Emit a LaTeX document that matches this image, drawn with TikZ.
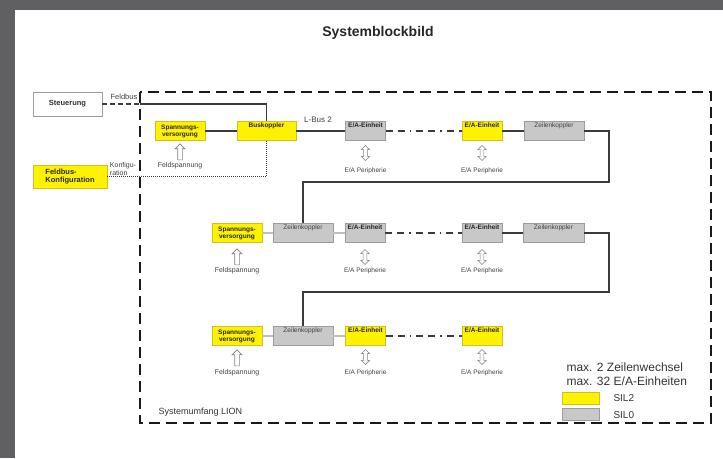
\documentclass[tikz,border=0pt]{standalone}
\usepackage{fontspec}
\setmainfont{Liberation Sans}
\usepackage{xcolor}
\usepackage{tikz}
\usetikzlibrary{shapes.arrows}

\definecolor{SILgelb}{HTML}{FFF200}
\definecolor{SILgelbRand}{HTML}{D0C020}
\definecolor{SILgrau}{HTML}{C8C8C8}
\definecolor{SILgrauRand}{HTML}{9C9C9C}
\definecolor{Leitung}{HTML}{3A3A3A}
\definecolor{Hellleitung}{HTML}{BEBEBE}
\definecolor{Rahmen}{HTML}{606062}

\begin{document}
\begin{tikzpicture}[x=1pt,y=-1pt]
% Styles (aenderbar)
\tikzstyle{kasten}=[draw,inner sep=0pt,minimum height=19pt,line width=0.6pt]
\tikzstyle{gelb}=[kasten,fill=SILgelb,draw=SILgelbRand]
\tikzstyle{grau}=[kasten,fill=SILgrau,draw=SILgrauRand]
\tikzstyle{oben}=[text height=5pt,text depth=12pt]
\tikzstyle{fett}=[font=\fontsize{6.5}{7}\selectfont\bfseries,text=black!85]
\tikzstyle{duenn}=[font=\fontsize{6.5}{7}\selectfont,text=black!75]
\tikzstyle{klein}=[font=\fontsize{6.5}{7}\selectfont,text=black!75]
\tikzstyle{bus}=[draw=Leitung,line width=1.4pt]
\tikzstyle{hellbus}=[draw=Hellleitung,line width=1.2pt]
\tikzstyle{strichpunkt}=[bus,dash pattern=on 7pt off 5pt on 7pt off 5pt on 1.5pt off 5pt]
\tikzstyle{punkte}=[draw=Leitung,line width=1pt,dash pattern=on 1pt off 1pt]
\tikzstyle{grenze}=[draw=black!90,line width=1.6pt,dash pattern=on 11pt off 6pt]
\tikzstyle{pfeilauf}=[single arrow,shape border rotate=90,draw=gray,fill=white,line width=0.6pt,inner sep=2pt,single arrow head extend=2.6pt,minimum height=16pt]
\tikzstyle{doppelpfeil}=[double arrow,shape border rotate=90,draw=gray,fill=white,line width=0.6pt,inner sep=1.6pt,double arrow head extend=2.2pt,minimum height=15pt]
% Abmessungen (aenderbar)
\def\ZeileA{131}
\def\ZeileB{233}
\def\ZeileC{336}
\def\Rechts{609}
% Rahmen und Titel
\useasboundingbox (0,0) rectangle (723,458);
\fill[Rahmen] (0,0) rectangle (723,10);
\fill[Rahmen] (0,0) rectangle (15,458);
\node[font=\fontsize{14}{16}\selectfont\bfseries,text=black!85] (Titel) at (378,33) {Systemblockbild};
\draw[grenze] (140,92) rectangle (711,423);
\node[anchor=west,font=\fontsize{9}{10}\selectfont,text=black!80] (Umfang) at (155,412) {Systemumfang LION};
% Knoten ausserhalb
\node[kasten,draw=SILgrauRand,fill=white,minimum width=69pt,minimum height=24pt,font=\fontsize{7.5}{8.5}\selectfont\bfseries,text=black!80] (Steu) at (67.5,104) {Steuerung};
\node[gelb,minimum width=74pt,minimum height=23pt,align=left,font=\fontsize{7.5}{8.5}\selectfont\bfseries,text=black!85] (Kfg) at (70,176.5) {Feldbus-\\Konfiguration};
\node[font=\fontsize{7.5}{8}\selectfont,text=black!75] (FbT) at (124,97) {Feldbus};
\node[align=left,font=\fontsize{7}{7.5}\selectfont,text=black!75] (KfgT) at (123,169) {Konfigu-\\ration};
% Knoten Zeile A
\node[gelb,fett,align=center,minimum width=50pt] (SvA) at (180,\ZeileA) {Spannungs-\\versorgung};
\node[gelb,fett,oben,minimum width=59pt] (Bk) at (266.5,\ZeileA) {Buskoppler};
\node[grau,fett,oben,minimum width=40pt] (EaAa) at (365.5,\ZeileA) {E/A-Einheit};
\node[gelb,fett,oben,minimum width=40pt] (EaAb) at (482,\ZeileA) {E/A-Einheit};
\node[grau,duenn,oben,minimum width=60pt] (ZkA) at (554,\ZeileA) {Zeilenkoppler};
\node[font=\fontsize{8}{9}\selectfont,text=black!75] (LBusT) at (318,120) {L-Bus 2};
% Knoten Zeile B
\node[gelb,fett,align=center,minimum width=50pt] (SvB) at (237,\ZeileB) {Spannungs-\\versorgung};
\node[grau,duenn,oben,minimum width=60pt] (ZkBa) at (303,\ZeileB) {Zeilenkoppler};
\node[grau,fett,oben,minimum width=40pt] (EaBa) at (365,\ZeileB) {E/A-Einheit};
\node[grau,fett,oben,minimum width=40pt] (EaBb) at (482,\ZeileB) {E/A-Einheit};
\node[grau,duenn,oben,minimum width=61pt] (ZkBb) at (553.5,\ZeileB) {Zeilenkoppler};
% Knoten Zeile C
\node[gelb,fett,align=center,minimum width=50pt] (SvC) at (237,\ZeileC) {Spannungs-\\versorgung};
\node[grau,duenn,oben,minimum width=60pt] (ZkC) at (303,\ZeileC) {Zeilenkoppler};
\node[gelb,fett,oben,minimum width=40pt] (EaCa) at (365.5,\ZeileC) {E/A-Einheit};
\node[gelb,fett,oben,minimum width=40pt] (EaCb) at (482,\ZeileC) {E/A-Einheit};
% Pfeile Feldspannung und Peripherie
\node[pfeilauf] (FsA) at (180,153) {};
\node[klein,font=\fontsize{7}{7.5}\selectfont] (FsAt) at (180,166) {Feldspannung};
\node[pfeilauf] (FsB) at (237,258) {};
\node[klein,font=\fontsize{7}{7.5}\selectfont] (FsBt) at (237,271) {Feldspannung};
\node[pfeilauf] (FsC) at (237,359) {};
\node[klein,font=\fontsize{7}{7.5}\selectfont] (FsCt) at (237,373) {Feldspannung};
\node[doppelpfeil] (PAa) at (365.5,153) {};
\node[klein] (PAat) at (365.5,171) {E/A Peripherie};
\node[doppelpfeil] (PAb) at (482,153) {};
\node[klein] (PAbt) at (482,171) {E/A Peripherie};
\node[doppelpfeil] (PBa) at (365,257) {};
\node[klein] (PBat) at (365,271) {E/A Peripherie};
\node[doppelpfeil] (PBb) at (482,257) {};
\node[klein] (PBbt) at (482,271) {E/A Peripherie};
\node[doppelpfeil] (PCa) at (365.5,357) {};
\node[klein] (PCat) at (365.5,373) {E/A Peripherie};
\node[doppelpfeil] (PCb) at (482,357) {};
\node[klein] (PCbt) at (482,373) {E/A Peripherie};
% Legende
\node[anchor=west,font=\fontsize{12}{14}\selectfont,text=black!80] (MaxZ) at (563,367) {max. 2 Zeilenwechsel};
\node[anchor=west,font=\fontsize{12}{14}\selectfont,text=black!80] (MaxE) at (563,381) {max. 32 E/A-Einheiten};
\node[gelb,minimum width=37pt,minimum height=12pt] (LgGelb) at (580.5,398) {};
\node[grau,minimum width=37pt,minimum height=12pt] (LgGrau) at (580.5,414) {};
\node[anchor=west,font=\fontsize{10}{11}\selectfont,text=black!80] (LgGelbT) at (610,398) {SIL2};
\node[anchor=west,font=\fontsize{10}{11}\selectfont,text=black!80] (LgGrauT) at (610,415) {SIL0};
% Verbindungen
\coordinate (FbEin) at (140,104);
\coordinate (UmA) at (\Rechts,182);
\coordinate (UmB) at (\Rechts,292);
\draw[bus,line width=1.2pt,dash pattern=on 5pt off 3pt] (Steu.east) -- (FbEin);
\draw[bus] (FbEin) -| (Bk.north);
\draw[punkte] (Kfg.east) -| (Bk.south);
\draw[bus] (SvA) -- (Bk);
\draw[bus] (Bk) -- (EaAa);
\draw[strichpunkt] (EaAa) -- (EaAb);
\draw[bus] (EaAb) -- (ZkA);
\draw[bus] (ZkA.east) -| (UmA) -| (ZkBa.north);
\draw[hellbus] (SvB) -- (ZkBa);
\draw[hellbus] (ZkBa) -- (EaBa);
\draw[strichpunkt] (EaBa) -- (EaBb);
\draw[bus] (EaBb) -- (ZkBb);
\draw[bus] (ZkBb.east) -| (UmB) -| (ZkC.north);
\draw[hellbus] (SvC) -- (ZkC);
\draw[hellbus] (ZkC) -- (EaCa);
\draw[strichpunkt] (EaCa) -- (EaCb);
\end{tikzpicture}
\end{document}
